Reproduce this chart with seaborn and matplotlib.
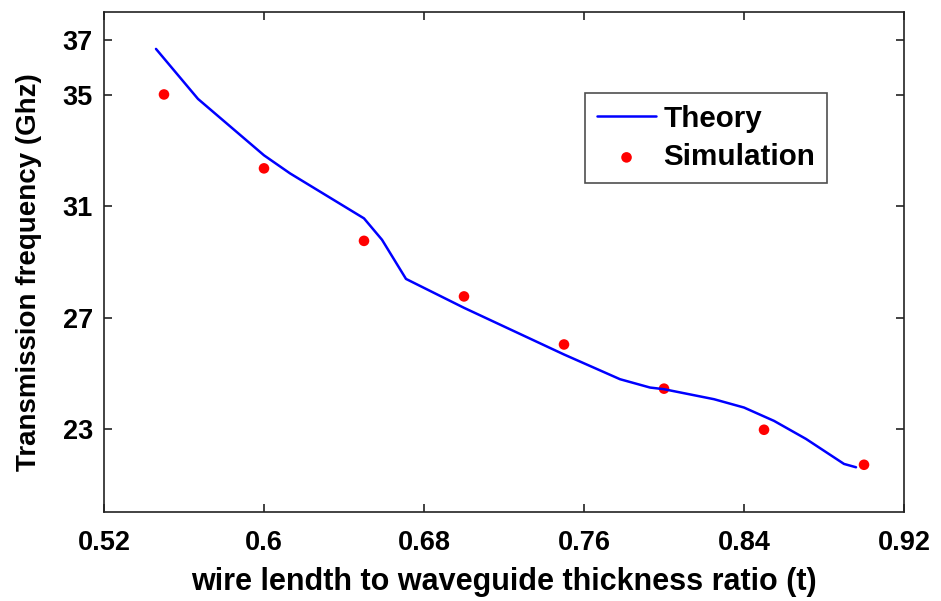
import matplotlib
matplotlib.use("Agg")
import matplotlib.pyplot as plt
import seaborn as sns

# theory curve
theory_x = [0.546, 0.567, 0.600, 0.613, 0.650, 0.659, 0.671, 0.700,
            0.750, 0.778, 0.793, 0.800, 0.825, 0.840, 0.855, 0.871,
            0.890, 0.896]
theory_y = [36.67, 34.87, 32.84, 32.19, 30.57, 29.80, 28.39, 27.35,
            25.67, 24.78, 24.48, 24.42, 24.06, 23.76, 23.28, 22.63,
            21.73, 21.61]

# simulation points
sim_x = [0.55, 0.60, 0.65, 0.70, 0.75, 0.80, 0.85, 0.90]
sim_y = [35.03, 32.37, 29.76, 27.76, 26.03, 24.44, 22.96, 21.70]

x_ticks = [0.52, 0.6, 0.68, 0.76, 0.84, 0.92]
x_tick_labels = ["0.52", "0.6", "0.68", "0.76", "0.84", "0.92"]
y_ticks = [23, 27, 31, 35, 37]

sns.set_style("ticks")
plt.rcParams['font.family'] = ['Liberation Sans', 'DejaVu Sans']
plt.rcParams['font.weight'] = 'bold'
plt.rcParams['text.color'] = 'black'
plt.rcParams['axes.labelcolor'] = 'black'
plt.rcParams['xtick.color'] = '#222222'
plt.rcParams['ytick.color'] = '#222222'
plt.rcParams['xtick.labelcolor'] = 'black'
plt.rcParams['ytick.labelcolor'] = 'black'

fig = plt.figure(figsize=(9.41, 6.01), dpi=100)
ax = fig.add_axes([0.1105, 0.1481, 0.8502, 0.832])

sns.lineplot(x=theory_x, y=theory_y, sort=False, color='#0000ff',
             linewidth=1.8, label='Theory', ax=ax)
sns.scatterplot(x=sim_x, y=sim_y, color='#ff0000', s=58, edgecolor='none',
                label='Simulation', ax=ax)

ax.set_xlim(0.52, 0.92)
ax.set_ylim(20, 38)
ax.set_xticks(x_ticks)
ax.set_xticklabels(x_tick_labels)
ax.set_yticks(y_ticks)
ax.tick_params(direction='in', top=True, right=True, length=6, width=1.2,
               labelsize=19.5, pad=8)
ax.tick_params(axis='x', pad=13)
for lab in ax.get_xticklabels() + ax.get_yticklabels():
    lab.set_fontweight('bold')
for sp in ax.spines.values():
    sp.set_linewidth(1.2)
    sp.set_color('#222222')

ax.set_xlabel("wire lendth to waveguide thickness ratio (t)", fontsize=22,
              fontweight='bold', labelpad=8)
ax.set_ylabel("Transmission frequency (Ghz)", fontsize=20,
              fontweight='bold', labelpad=12)
ax.yaxis.set_label_coords(-0.078, 0.48)

leg = ax.legend(loc='upper right', bbox_to_anchor=(0.904, 0.838),
                borderaxespad=0, fontsize=21.3, frameon=True, fancybox=False,
                handlelength=2.0, handletextpad=0.25, borderpad=0.4,
                labelspacing=0.35, markerscale=1.0)
leg.get_frame().set_edgecolor('#222222')
leg.get_frame().set_linewidth(1.2)
for t in leg.get_texts():
    t.set_fontweight('bold')

fig.savefig("out.png", dpi=100)
plt.close(fig)
